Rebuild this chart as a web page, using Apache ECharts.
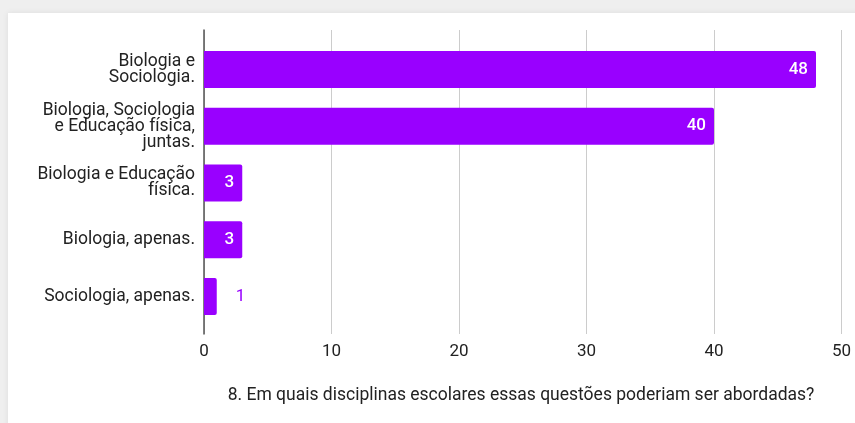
<!DOCTYPE html>
<html>
<head>
<meta charset="utf-8">
<script src="https://cdn.jsdelivr.net/npm/echarts@6/dist/echarts.min.js"></script>
<style>
  html, body { margin: 0; padding: 0; background: #efefef; }
  #chart { width: 855px; height: 423px; }
</style>
</head>
<body>
<div id="chart"></div>
<script>
// Answers to question 8 and the number of responses for each
const categories = [
  'Biologia e\nSociologia.',
  'Biologia, Sociologia\ne Educação física,\njuntas.',
  'Biologia e Educação\nfísica.',
  'Biologia, apenas.',
  'Sociologia, apenas.'
];
const responses = [48, 40, 3, 3, 1];
const xTicks = [0, 10, 20, 30, 40, 50];
const chartTitle = '8. Em quais disciplinas escolares essas questões poderiam ser abordadas?';

const purple = '#9900ff';
const font = 'Roboto, Arial, sans-serif';

const chart = echarts.init(document.getElementById('chart'), null, { renderer: 'canvas' });

// Values too short to hold their label inside the bar get it outside, in the bar colour
const barData = responses.map(v => ({
  value: v,
  label: v >= 3
    ? { position: 'insideRight', distance: 8, color: '#ffffff' }
    : { position: 'right', distance: 19, color: purple, fontWeight: 'normal' }
}));

chart.setOption({
  backgroundColor: '#efefef',
  animation: false,
  graphic: [{
    type: 'rect',
    shape: { x: 8, y: 13, width: 860, height: 420 },
    style: { fill: '#ffffff', shadowBlur: 6, shadowColor: 'rgba(0,0,0,0.08)' },
    z: -10
  }],
  title: {
    text: chartTitle,
    left: 516,
    top: 382,
    textAlign: 'center',
    textStyle: { fontFamily: font, fontSize: 17.5, fontWeight: 'normal', color: '#222222' }
  },
  grid: [
    { left: 204, right: 13.5, top: 41, height: 284, containLabel: false },
    { left: 204, right: 13.5, top: 30, bottom: 89, containLabel: false }
  ],
  xAxis: [
    { gridIndex: 0, type: 'value', min: xTicks[0], max: xTicks[xTicks.length - 1], interval: 10, show: false },
    {
      gridIndex: 1, type: 'value', min: xTicks[0], max: xTicks[xTicks.length - 1], interval: 10,
      axisLine: { show: false },
      axisTick: { show: false },
      axisLabel: { fontFamily: font, fontSize: 17, color: '#222222', margin: 9 },
      splitLine: { show: true, lineStyle: { color: '#cccccc', width: 1 } }
    }
  ],
  yAxis: [
    {
      gridIndex: 0, type: 'category', data: categories, inverse: true,
      axisLine: { show: false },
      axisTick: { show: false },
      axisLabel: {
        fontFamily: font, fontSize: 17.5, color: '#222222', margin: 9,
        align: 'right', lineHeight: 16
      }
    },
    {
      gridIndex: 1, type: 'category', data: [''],
      axisLine: { show: true, onZero: false, lineStyle: { color: '#555555', width: 1.5 } },
      axisTick: { show: false },
      axisLabel: { show: false },
      splitLine: { show: false }
    }
  ],
  series: [{
    type: 'bar',
    xAxisIndex: 0,
    yAxisIndex: 0,
    data: barData,
    barWidth: 37,
    itemStyle: { color: purple, borderRadius: [0, 2, 2, 0] },
    label: {
      show: true,
      fontFamily: font,
      fontSize: 17,
      fontWeight: 500
    },
    z: 3
  }]
});
</script>
</body>
</html>
